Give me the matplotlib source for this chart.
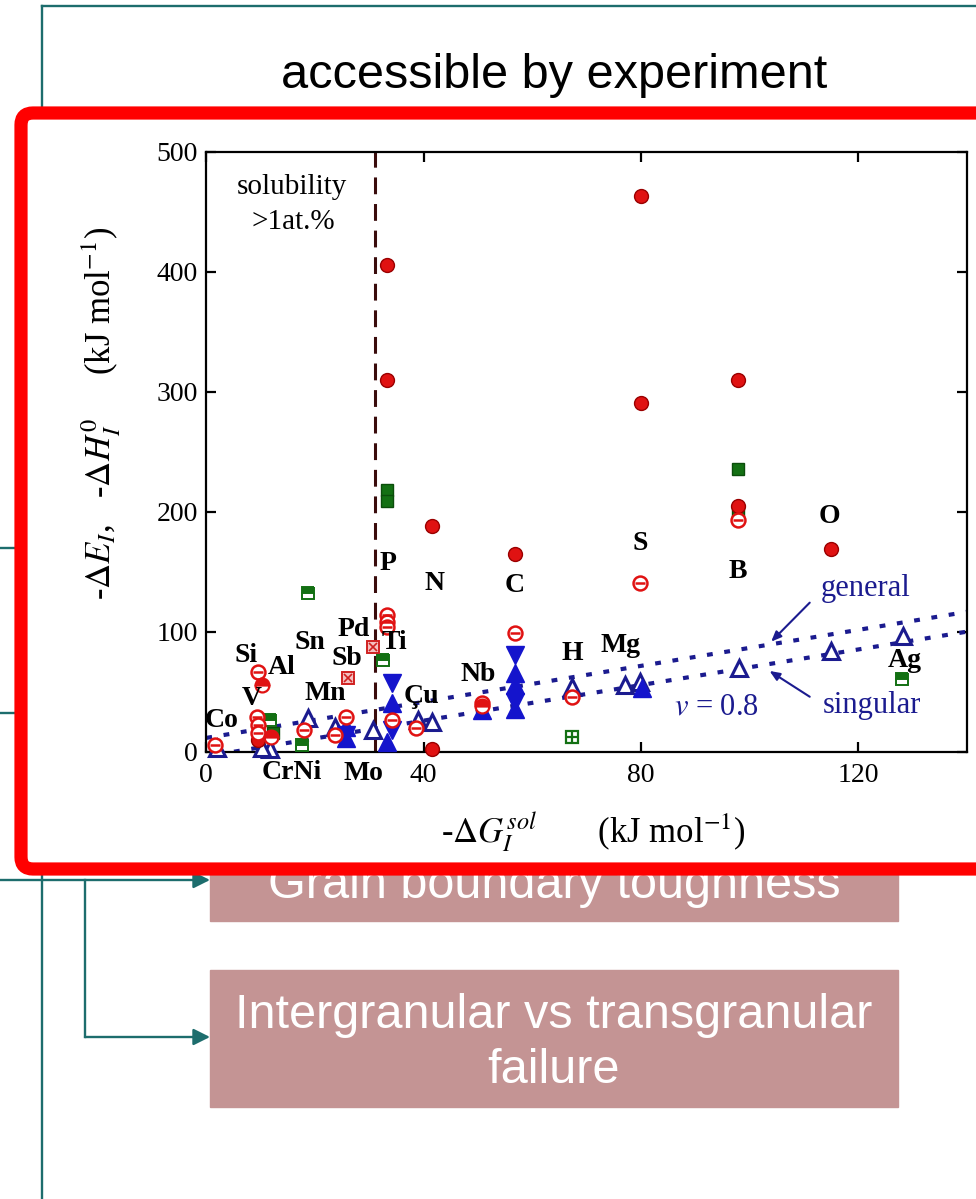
import matplotlib
matplotlib.use("Agg")
import matplotlib.pyplot as plt
from matplotlib.patches import FancyBboxPatch, Rectangle

plt.rcParams['font.family'] = ['Liberation Serif', 'DejaVu Serif']
plt.rcParams['mathtext.fontset'] = 'stix'

# ---------------- data ----------------
# red filled circles
circ_x = [33.2, 33.2, 80.0, 80.0, 97.9, 41.5, 56.8, 115.1, 41.5, 97.9, 9.6]
circ_y = [405.6, 309.8, 463.0, 290.8, 309.8, 188.0, 165.0, 168.7, 2.0, 205.0, 10.0]
# red barred circles
bar_x = [79.9, 56.8, 33.2, 33.2, 33.2, 9.6, 97.9, 67.3, 38.7, 34.1, 25.8,
         9.3, 9.6, 9.6, 17.9, 23.7, 1.6, 50.7]
bar_y = [140.8, 98.6, 113.9, 107.9, 104.0, 66.7, 193.0, 45.8, 19.5, 26.4, 29.2,
         29.2, 22.3, 15.3, 18.0, 13.9, 5.6, 40.3]
# red half-filled circles
half_x = [10.2, 12.0, 50.7]
half_y = [55.6, 12.5, 38.0]
# red crossed squares
xsq_x = [30.7, 26.1]
xsq_y = [87.5, 61.2]
# green filled squares
gsq_x = [33.2, 33.2, 97.9, 97.9, 12.3]
gsq_y = [218.0, 209.0, 236.0, 199.0, 15.3]
# green half-filled squares
ghalf_x = [18.8, 32.6, 128.0, 11.7, 17.6]
ghalf_y = [132.5, 76.4, 60.3, 26.4, 5.6]
# green gridded square
ggrid_x = [67.3]
ggrid_y = [12.5]
# blue filled triangles (up / down)
bup_x = [34.1, 56.8, 56.8, 50.7, 25.8, 25.8, 33.2, 80.2, 56.8]
bup_y = [40.3, 65.3, 55.6, 35.0, 20.8, 11.1, 8.3, 52.8, 36.0]
bdn_x = [34.1, 56.8, 56.8, 34.1, 25.8]
bdn_y = [57.0, 80.6, 41.7, 18.0, 14.0]
# blue open triangles
bopen_x = [128.2, 115.1, 98.1, 77.1, 79.8, 67.3, 39.0, 41.5, 18.8, 11.7,
           10.2, 1.9, 30.7, 23.7]
bopen_y = [96.4, 83.9, 70.0, 55.6, 58.3, 54.2, 26.4, 25.0, 27.8, 2.0,
           2.8, 2.8, 18.0, 20.8]
# dotted trend lines
general_x = [0.0, 140.0]
general_y = [11.5, 116.5]
singular_x = [5.1, 140.0]
singular_y = [0.0, 100.0]
solubility_limit = 31.0

# element labels (name, x, y)
elements = ["Si", "Al", "Sn", "Pd", "Ti", "Sb", "Mn", "V", "Co", "Çu", "Nb",
            "H", "Mg", "Ag", "O", "S", "B", "P", "N", "C", "CrNi", "Mo"]
elem_x = [7.4, 13.9, 19.1, 27.1, 34.7, 25.8, 21.9, 8.4, 2.8, 39.7, 50.1,
          67.3, 76.2, 128.6, 114.7, 79.8, 97.9, 33.5, 42.1, 56.7, 15.7, 28.9]
elem_y = [79.8, 70.3, 90.8, 102.0, 90.8, 77.8, 48.7, 44.5, 26.4, 45.8, 64.5,
          82.0, 88.9, 76.4, 196.4, 173.1, 150.0, 157.0, 140.3, 138.9, -17.5, -18.0]

x_ticks = [0, 40, 80, 120]
y_ticks = [0, 100, 200, 300, 400, 500]

# ---------------- figure ----------------
W, H = 976, 1199
fig = plt.figure(figsize=(W / 100, H / 100), dpi=100)

# slide layer in pixel units
bg = fig.add_axes([0, 0, 1, 1])
bg.set_xlim(0, W)
bg.set_ylim(H, 0)
bg.axis('off')

teal = '#1d6d6d'
rose = '#c49494'
lw_t = 1.7
bg.plot([42, W], [6, 6], color=teal, lw=lw_t, zorder=1)
bg.plot([42, 42], [6, H], color=teal, lw=lw_t, zorder=1)
bg.plot([0, 25], [548, 548], color=teal, lw=lw_t, zorder=1)
bg.plot([0, 25], [713, 713], color=teal, lw=lw_t, zorder=1)
arrow_kw = dict(arrowstyle='-|>,head_length=1.0,head_width=0.5', color=teal,
                lw=lw_t, shrinkA=0, shrinkB=0)
bg.annotate('', xy=(210, 880), xytext=(0, 880), arrowprops=arrow_kw, zorder=1)
bg.plot([85, 85], [880, 1037], color=teal, lw=lw_t, zorder=1)
bg.annotate('', xy=(210, 1037), xytext=(85, 1037), arrowprops=arrow_kw, zorder=1)

bg.add_patch(Rectangle((210, 839), 688, 82, color=rose, zorder=1))
bg.add_patch(Rectangle((210, 970), 688, 137, color=rose, zorder=1))
sans = dict(family=['Liberation Sans', 'DejaVu Sans'], size=35)
bg.text(554, 898, 'Grain boundary toughness', color='white', ha='center',
        va='baseline', zorder=2, **sans)
bg.text(554, 1028, 'Intergranular vs transgranular', color='white', ha='center',
        va='baseline', zorder=2, **sans)
bg.text(554, 1083, 'failure', color='white', ha='center', va='baseline',
        zorder=2, **sans)
bg.text(554, 88, 'accessible by experiment', color='black', ha='center',
        va='baseline', zorder=2, **sans)

frame = FancyBboxPatch((21, 113), 1000, 756,
                       boxstyle='round,pad=0,rounding_size=12',
                       fc='white', ec='#ff0000', lw=9.5, zorder=5)
bg.add_patch(frame)

# axis titles
bg.text(101, 413, r'-$\Delta E_I$,   -$\Delta H_I^0$     (kJ mol$^{-1}$)',
        rotation=90, ha='center', va='center', size=25, zorder=6)
bg.text(593, 832, r'-$\Delta G_I^{sol}$       (kJ mol$^{-1}$)',
        ha='center', va='center', size=25, zorder=6)

# ---------------- chart ----------------
ax = fig.add_axes([206.3 / W, 1 - 751.7 / H, (966.7 - 206.3) / W, 600 / H])
ax.set_facecolor('none')
ax.set_xlim(0, 140)
ax.set_ylim(0, 500)
ax.set_xticks(x_ticks)
ax.set_yticks(y_ticks)
ax.tick_params(direction='in', length=7, width=1.6, top=True, right=True,
               labelsize=20)
ax.tick_params(axis='y', pad=6)
ax.tick_params(axis='x', pad=8)
for s in ax.spines.values():
    s.set_linewidth(1.6)

ax.axvline(solubility_limit, color='#3a0c0c', lw=2.2, ls=(0, (5.5, 3.2)), zorder=1)

navy = '#1b1b8f'
dot_kw = dict(color=navy, lw=3.0, ls=(0, (1.4, 2.8)), zorder=2)
ax.plot(general_x, general_y, **dot_kw)
ax.plot(singular_x, singular_y, **dot_kw)

red = '#e01212'
dred = '#9a0000'
green = '#137013'
blue = '#1414cc'


def pts(x, y, **kw):
    ax.plot(x, y, ls='none', clip_on=False, **kw)


pts(gsq_x, gsq_y, marker='s', ms=8.5, mfc=green, mec='#0b4d0b', mew=1, zorder=3)
pts(ghalf_x, ghalf_y, marker='s', ms=8.5, fillstyle='top', mfc=green,
    mfcalt='white', mec=green, mew=1.4, zorder=3)
pts(ggrid_x, ggrid_y, marker='s', ms=9, mfc='white', mec=green, mew=1.6, zorder=3)
pts(ggrid_x, ggrid_y, marker='+', ms=8, mec=green, mew=1.6, zorder=3)

pts(bopen_x, bopen_y, marker='^', ms=11, mfc='white', mec=navy, mew=2.2, zorder=4)
pts(bup_x, bup_y, marker='^', ms=13, mfc=blue, mec=blue, zorder=4)
pts(bdn_x, bdn_y, marker='v', ms=13, mfc=blue, mec=blue, zorder=4)

pts(circ_x, circ_y, marker='o', ms=10, mfc=red, mec=dred, mew=1, zorder=5)
pts(bar_x, bar_y, marker='o', ms=10, mfc='white', mec=red, mew=1.8, zorder=5)
pts(bar_x, bar_y, marker='_', ms=7, mec=red, mew=1.8, zorder=5)
pts(half_x, half_y, marker='o', ms=10, fillstyle='top', mfc=red,
    mfcalt='white', mec=red, mew=1.6, zorder=5)
pts(xsq_x, xsq_y, marker='s', ms=9, mfc='#f4c0c0', mec='#d02020', mew=1.4, zorder=5)
pts(xsq_x, xsq_y, marker='x', ms=6, mec='#d02020', mew=1.2, zorder=5)

for name, ex, ey in zip(elements, elem_x, elem_y):
    ax.text(ex, ey, name, ha='center', va='center', size=20, weight='bold',
            clip_on=False, zorder=6)

ax.text(15.8, 470.8, 'solubility', ha='center', va='center', size=21)
ax.text(16.0, 441.7, '>1at.%', ha='center', va='center', size=21)

ax.text(121.3, 136.2, 'general', color=navy, ha='center', va='center', size=22)
ax.text(122.5, 38.9, 'singular', color=navy, ha='center', va='center', size=22)
ax.text(94.0, 37.5, r'$\mathit{v}$ = 0.8', color=navy, ha='center',
        va='center', size=22)
arr = dict(arrowstyle='-|>,head_length=0.6,head_width=0.25', color=navy, lw=1.5,
           shrinkA=0, shrinkB=0)
ax.annotate('', xy=(104.0, 91.7), xytext=(111.1, 124.2), arrowprops=arr)
ax.annotate('', xy=(103.7, 67.3), xytext=(111.1, 45.8), arrowprops=arr)

fig.savefig('out.png', dpi=100)
